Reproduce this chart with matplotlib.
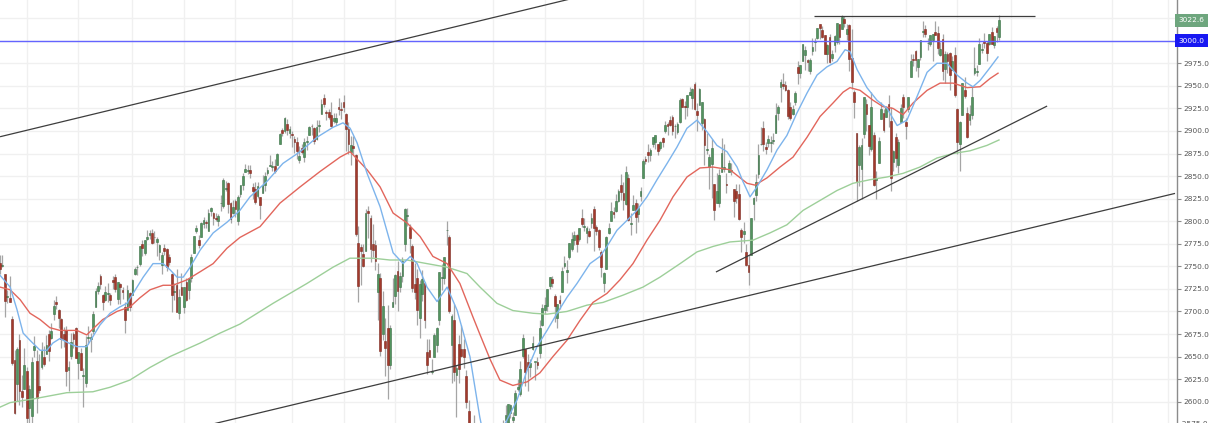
import matplotlib
matplotlib.use("Agg")
import matplotlib.pyplot as plt
import matplotlib.transforms as mtransforms
import numpy as np

# S&P 500 daily candles, 2018-03-15 .. 2019-10-25, one value per session
opens = [
    2754, 2750, 2741, 2716, 2715, 2692, 2646, 2620, 2668, 2612, 2614,  # 2018-03
    2634, 2593, 2584, 2657, 2645, 2617, 2638, 2650, 2653, 2675, 2671, 2697, 2710, 2702, 2692, 2675, 2680, 2635, 2651, 2675, 2682,
    2643, 2654, 2628, 2621, 2671, 2670, 2678, 2705, 2723, 2739, 2718, 2713, 2719, 2718, 2735, 2738, 2714, 2730, 2724, 2705, 2702, 2720,
    2718, 2741, 2749, 2753, 2775, 2765, 2780, 2785, 2787, 2783, 2777, 2766, 2752, 2770, 2769, 2760, 2742, 2722, 2729, 2698, 2727,
    2705, 2733, 2724, 2737, 2765, 2789, 2779, 2783, 2797, 2799, 2789, 2811, 2809, 2804, 2800, 2820, 2817, 2836, 2842, 2820, 2809,
    2822, 2800, 2830, 2840, 2855, 2856, 2857, 2838, 2836, 2828, 2827, 2831, 2840, 2853, 2861, 2860, 2861, 2862, 2885, 2901, 2900, 2908, 2898,
    2897, 2891, 2888, 2868, 2881, 2871, 2888, 2896, 2906, 2903, 2891, 2906, 2919, 2937, 2921, 2921, 2918, 2911, 2910,
    2926, 2924, 2932, 2919, 2902, 2877, 2883, 2873, 2776, 2771, 2764, 2767, 2811, 2803, 2775, 2774, 2721, 2737, 2675, 2667, 2682, 2641, 2705,
    2717, 2745, 2727, 2739, 2775, 2806, 2794, 2773, 2730, 2737, 2693, 2719, 2731, 2655, 2657, 2633, 2650, 2663, 2691, 2737, 2737,
    2790, 2782, 2663, 2691, 2630, 2664, 2658, 2658, 2629, 2590, 2559, 2548, 2496, 2465, 2401, 2363, 2443, 2499, 2498,
    2477, 2491, 2475, 2536, 2568, 2580, 2574, 2588, 2580, 2585, 2614, 2609, 2651, 2658, 2644, 2639, 2658, 2644, 2644, 2654, 2685,  # 2019-01
    2702, 2706, 2728, 2736, 2717, 2693, 2713, 2722, 2750, 2744, 2760, 2769, 2779, 2785, 2780, 2804, 2794, 2787, 2789,
    2798, 2814, 2794, 2790, 2766, 2731, 2747, 2787, 2800, 2810, 2811, 2822, 2840, 2831, 2819, 2848, 2797, 2812, 2820, 2808, 2828,
    2848, 2869, 2877, 2873, 2885, 2888, 2886, 2881, 2892, 2900, 2908, 2912, 2916, 2905, 2899, 2910, 2935, 2928, 2926, 2940, 2937,
    2952, 2922, 2929, 2909, 2913, 2879, 2860, 2863, 2841, 2820, 2820, 2855, 2858, 2841, 2855, 2856, 2836, 2833, 2830, 2790, 2786, 2766,
    2752, 2763, 2819, 2829, 2852, 2885, 2903, 2882, 2887, 2887, 2889, 2898, 2920, 2949, 2952, 2951, 2945, 2926, 2919, 2932,
    2971, 2964, 2978, 2984, 2979, 2966, 2989, 2999, 3003, 3018, 3012, 3006, 2985, 3004, 2981, 2995, 2999, 3019, 3013, 3024, 3007, 3017,
    2981, 2943, 2898, 2862, 2858, 2897, 2930, 2907, 2880, 2895, 2846, 2865, 2913, 2920, 2915, 2930, 2911, 2866, 2893, 2862, 2910, 2938,
    2910, 2924, 2960, 2980, 2989, 2971, 2982, 3010, 3013, 2997, 2996, 3001, 3010, 3009, 2984, 3002, 2969, 2985, 2986, 2968,
    2984, 2924, 2885, 2918, 2945, 2920, 2912, 2918, 2964, 2965, 2974, 2990, 3000, 2997, 2996, 3010, 2995, 3014, 3004,
]
highs = [
    2763, 2762, 2741, 2724, 2739, 2695, 2657, 2661, 2675, 2630, 2659,
    2638, 2619, 2649, 2673, 2657, 2653, 2666, 2662, 2674, 2680, 2687, 2713, 2717, 2703, 2693, 2683, 2684, 2645, 2676, 2677, 2683,
    2655, 2660, 2637, 2673, 2684, 2676, 2701, 2726, 2733, 2742, 2719, 2728, 2731, 2720, 2739, 2742, 2733, 2731, 2727, 2710, 2729, 2722,
    2736, 2749, 2752, 2773, 2779, 2779, 2790, 2790, 2791, 2789, 2782, 2775, 2766, 2775, 2770, 2764, 2743, 2732, 2747, 2725, 2743,
    2727, 2737, 2737, 2764, 2784, 2796, 2785, 2799, 2805, 2801, 2814, 2816, 2810, 2809, 2808, 2829, 2848, 2844, 2843, 2821, 2824,
    2825, 2829, 2840, 2853, 2863, 2862, 2862, 2842, 2843, 2843, 2827, 2851, 2855, 2860, 2873, 2867, 2869, 2876, 2898, 2903, 2916, 2913, 2906,
    2900, 2894, 2893, 2883, 2886, 2892, 2894, 2906, 2908, 2904, 2912, 2912, 2935, 2941, 2923, 2924, 2932, 2920, 2920,
    2937, 2932, 2940, 2920, 2910, 2894, 2894, 2874, 2795, 2775, 2775, 2813, 2817, 2807, 2797, 2779, 2754, 2743, 2723, 2693, 2707, 2685, 2737,
    2741, 2756, 2744, 2760, 2815, 2815, 2797, 2775, 2754, 2747, 2735, 2746, 2733, 2670, 2670, 2647, 2676, 2683, 2744, 2753, 2760,
    2800, 2785, 2697, 2708, 2641, 2674, 2685, 2670, 2635, 2602, 2573, 2585, 2510, 2504, 2410, 2468, 2489, 2520, 2510,
    2520, 2494, 2539, 2566, 2580, 2596, 2598, 2597, 2589, 2613, 2625, 2645, 2675, 2658, 2653, 2647, 2673, 2644, 2650, 2690, 2708,
    2716, 2725, 2738, 2739, 2719, 2708, 2718, 2749, 2761, 2757, 2776, 2788, 2789, 2786, 2793, 2814, 2804, 2795, 2793,
    2809, 2817, 2796, 2791, 2768, 2744, 2784, 2798, 2821, 2816, 2830, 2836, 2852, 2843, 2861, 2852, 2809, 2829, 2825, 2820, 2838,
    2869, 2872, 2885, 2881, 2893, 2895, 2886, 2889, 2893, 2911, 2910, 2917, 2918, 2908, 2910, 2936, 2937, 2933, 2940, 2949, 2948,
    2954, 2931, 2948, 2932, 2914, 2898, 2875, 2891, 2841, 2853, 2858, 2892, 2885, 2853, 2868, 2865, 2836, 2841, 2841, 2792, 2799, 2775,
    2763, 2804, 2827, 2852, 2885, 2904, 2911, 2888, 2895, 2894, 2898, 2931, 2929, 2958, 2964, 2955, 2946, 2932, 2929, 2944,
    2978, 2973, 2996, 2994, 2980, 2981, 3003, 3003, 3014, 3018, 3016, 3006, 2996, 3007, 2990, 3006, 3020, 3019, 3028, 3027, 3018, 3018,
    3013, 2945, 2898, 2884, 2892, 2938, 2935, 2907, 2943, 2899, 2856, 2893, 2932, 2924, 2928, 2940, 2927, 2879, 2898, 2891, 2930, 2941,
    2914, 2938, 2985, 2985, 2990, 2980, 3001, 3022, 3017, 3003, 3006, 3007, 3022, 3016, 2999, 3007, 2989, 2987, 2988, 2983,
    2993, 2925, 2911, 2953, 2960, 2926, 2929, 2949, 2993, 2973, 3003, 2997, 3009, 3000, 3007, 3015, 3005, 3016, 3028,
]
lows = [
    2741, 2749, 2694, 2709, 2711, 2641, 2586, 2601, 2596, 2594, 2614,
    2554, 2575, 2573, 2649, 2587, 2610, 2636, 2640, 2653, 2645, 2670, 2691, 2703, 2682, 2660, 2661, 2617, 2612, 2647, 2659, 2648,
    2625, 2635, 2594, 2616, 2664, 2655, 2675, 2705, 2719, 2725, 2702, 2712, 2711, 2707, 2725, 2721, 2708, 2708, 2714, 2676, 2702, 2700,
    2718, 2740, 2740, 2750, 2761, 2763, 2779, 2780, 2775, 2776, 2761, 2757, 2741, 2763, 2745, 2752, 2699, 2713, 2699, 2692, 2718,
    2698, 2712, 2714, 2733, 2765, 2787, 2770, 2783, 2793, 2793, 2789, 2806, 2796, 2800, 2795, 2811, 2815, 2833, 2809, 2798, 2808,
    2805, 2796, 2827, 2835, 2855, 2852, 2848, 2825, 2819, 2826, 2802, 2831, 2834, 2851, 2861, 2856, 2853, 2862, 2885, 2894, 2898, 2895, 2892,
    2882, 2876, 2869, 2864, 2875, 2866, 2879, 2896, 2895, 2886, 2890, 2899, 2919, 2927, 2912, 2913, 2904, 2909, 2907,
    2918, 2913, 2921, 2878, 2874, 2862, 2874, 2784, 2710, 2729, 2749, 2767, 2781, 2755, 2760, 2746, 2691, 2651, 2668, 2628, 2603, 2636, 2705,
    2708, 2700, 2722, 2733, 2767, 2795, 2765, 2722, 2714, 2685, 2671, 2712, 2682, 2631, 2649, 2631, 2650, 2655, 2685, 2724, 2730,
    2774, 2698, 2621, 2623, 2583, 2621, 2650, 2637, 2593, 2531, 2528, 2489, 2441, 2408, 2351, 2347, 2398, 2473, 2487,
    2467, 2444, 2475, 2525, 2547, 2569, 2563, 2582, 2570, 2585, 2612, 2606, 2648, 2617, 2612, 2627, 2657, 2624, 2636, 2648, 2684,
    2697, 2701, 2725, 2727, 2688, 2682, 2703, 2722, 2748, 2731, 2758, 2767, 2774, 2766, 2778, 2794, 2789, 2776, 2782,
    2792, 2767, 2785, 2768, 2738, 2722, 2747, 2786, 2800, 2803, 2810, 2821, 2823, 2812, 2818, 2800, 2785, 2812, 2787, 2799, 2822,
    2848, 2863, 2866, 2867, 2882, 2880, 2873, 2879, 2882, 2898, 2896, 2905, 2896, 2892, 2897, 2909, 2926, 2913, 2917, 2940, 2924,
    2923, 2900, 2929, 2901, 2862, 2874, 2836, 2826, 2801, 2820, 2816, 2855, 2854, 2831, 2855, 2851, 2805, 2820, 2801, 2766, 2776, 2750,
    2729, 2763, 2801, 2822, 2848, 2884, 2878, 2874, 2882, 2877, 2885, 2898, 2912, 2932, 2946, 2944, 2913, 2912, 2918, 2929,
    2952, 2959, 2978, 2967, 2966, 2963, 2984, 2989, 3002, 3002, 3003, 2985, 2975, 2975, 2977, 2988, 2996, 2996, 3013, 3015, 3001, 2966,
    2946, 2914, 2822, 2839, 2825, 2892, 2900, 2873, 2878, 2839, 2825, 2865, 2913, 2899, 2915, 2904, 2834, 2856, 2860, 2853, 2910, 2914,
    2891, 2921, 2960, 2972, 2966, 2960, 2979, 3004, 3004, 2990, 2994, 2978, 3006, 2985, 2983, 2957, 2953, 2964, 2945, 2967,
    2938, 2875, 2856, 2918, 2937, 2892, 2907, 2913, 2962, 2961, 2974, 2986, 2992, 2977, 2995, 2996, 2992, 2999, 3001,
]
closes = [
    2747, 2752, 2712, 2717, 2711, 2643, 2588, 2658, 2612, 2605, 2641,
    2582, 2614, 2644, 2662, 2604, 2613, 2656, 2642, 2663, 2656, 2678, 2706, 2708, 2693, 2670, 2670, 2634, 2639, 2666, 2670, 2648,
    2655, 2635, 2630, 2663, 2672, 2672, 2697, 2723, 2728, 2730, 2711, 2722, 2720, 2713, 2733, 2725, 2733, 2727, 2721, 2690, 2724, 2705,
    2735, 2747, 2749, 2772, 2770, 2779, 2782, 2787, 2776, 2782, 2780, 2774, 2763, 2767, 2749, 2755, 2718, 2723, 2699, 2716, 2718,
    2727, 2713, 2736, 2760, 2784, 2793, 2774, 2798, 2801, 2798, 2809, 2815, 2804, 2802, 2806, 2820, 2846, 2837, 2819, 2802, 2816,
    2813, 2827, 2840, 2850, 2858, 2857, 2853, 2833, 2821, 2839, 2818, 2840, 2850, 2857, 2862, 2861, 2856, 2875, 2897, 2898, 2914, 2901, 2902,
    2896, 2888, 2878, 2872, 2877, 2888, 2888, 2904, 2905, 2889, 2904, 2907, 2930, 2930, 2920, 2916, 2906, 2914, 2914,
    2924, 2923, 2926, 2902, 2886, 2884, 2881, 2786, 2728, 2767, 2750, 2809, 2809, 2769, 2768, 2756, 2741, 2656, 2706, 2659, 2641, 2682, 2711,
    2740, 2723, 2739, 2756, 2814, 2806, 2781, 2726, 2722, 2702, 2730, 2736, 2690, 2641, 2649, 2633, 2674, 2682, 2744, 2738, 2760,
    2790, 2700, 2695, 2633, 2637, 2636, 2651, 2650, 2600, 2546, 2546, 2507, 2467, 2417, 2351, 2468, 2489, 2486, 2507,
    2510, 2448, 2532, 2550, 2574, 2585, 2597, 2596, 2583, 2610, 2616, 2636, 2671, 2633, 2639, 2643, 2665, 2644, 2641, 2682, 2704,
    2707, 2725, 2738, 2732, 2706, 2708, 2709, 2745, 2754, 2746, 2776, 2780, 2785, 2775, 2793, 2797, 2794, 2793, 2784,
    2804, 2792, 2789, 2771, 2749, 2743, 2783, 2792, 2811, 2808, 2822, 2833, 2832, 2824, 2855, 2801, 2798, 2818, 2805, 2815, 2834,
    2867, 2867, 2873, 2879, 2893, 2895, 2878, 2888, 2888, 2907, 2906, 2907, 2900, 2905, 2908, 2934, 2927, 2926, 2940, 2943, 2946,
    2924, 2918, 2946, 2932, 2884, 2880, 2871, 2881, 2812, 2834, 2851, 2876, 2860, 2840, 2864, 2857, 2822, 2826, 2802, 2783, 2789, 2752,
    2744, 2804, 2826, 2843, 2873, 2886, 2885, 2880, 2891, 2887, 2889, 2918, 2926, 2954, 2950, 2945, 2917, 2914, 2924, 2942,
    2964, 2973, 2996, 2990, 2976, 2979, 2993, 3000, 3014, 3014, 3004, 2985, 2995, 2976, 2985, 3005, 3020, 3004, 3026, 3020, 3013, 2980,
    2954, 2932, 2845, 2882, 2884, 2938, 2919, 2883, 2926, 2840, 2848, 2889, 2924, 2901, 2925, 2923, 2848, 2878, 2870, 2888, 2925, 2927,
    2906, 2938, 2977, 2979, 2979, 2980, 3001, 3010, 3007, 2998, 3006, 3007, 3006, 2992, 2991, 2966, 2985, 2977, 2962, 2977,
    2940, 2888, 2910, 2953, 2939, 2893, 2919, 2938, 2970, 2966, 2996, 2990, 2998, 2986, 3007, 2996, 3005, 3010, 3023,
]

# moving averages (bar index, value)
ma_fast_at = [0.1, 4.2, 7, 9.5, 12.3, 16.4, 19.2, 21.6, 24.5, 27.3, 31.4, 35.4, 37.9, 40.8, 44.9, 48.9, 51.8,
              54.3, 58.4, 62.4, 66.5, 69.4, 72.2, 74.7, 77.5, 81.6, 86.9, 92.6, 97.8, 101.9, 108.8, 115.3, 122.3,
              129.2, 135.7, 139.8, 142.7, 145.5, 149.6, 154.9, 160.2, 164.3, 167.2, 170, 174, 178.1, 182.2, 186.3,
              191.5, 195.5, 198, 201, 204, 205.9, 210.7, 214.8, 218.8, 222.9, 227, 231.1, 235.1, 240.4, 244.5,
              247.3, 251.4, 255.5, 259.5, 263.6, 267.7, 271.8, 275.8, 279.9, 284, 288.1, 292.1, 296.2, 300.3,
              302.7, 305.6, 308.4, 312.5, 316.6, 320.6, 324.7, 328.8, 332.9, 336.9, 341, 344.3, 346.3, 349.2,
              353.2, 357.3, 361.4, 365.5, 369.5, 373.6, 377.7, 381.7, 385.8, 389.9, 394, 396.4, 399.3, 403.3, 406.6]
ma_fast = [2740, 2727, 2702, 2676, 2668, 2657, 2657, 2665, 2670, 2666, 2661, 2661, 2672, 2685, 2698, 2705, 2709,
           2720, 2738, 2753, 2753, 2746, 2738, 2738, 2749, 2768, 2787, 2799, 2812, 2827, 2844, 2864, 2877,
           2893, 2904, 2909, 2903, 2887, 2853, 2816, 2765, 2753, 2761, 2753, 2727, 2711, 2727, 2701,
           2650, 2583, 2550, 2535, 2552, 2576, 2602, 2635, 2661, 2679, 2698, 2716, 2731, 2753, 2761,
           2772, 2790, 2801, 2812, 2827, 2846, 2864, 2882, 2903, 2912, 2899, 2884, 2877, 2860,
           2844, 2827, 2838, 2857, 2879, 2895, 2920, 2942, 2962, 2971, 2977, 2990, 2988, 2968,
           2948, 2934, 2925, 2906, 2912, 2938, 2965, 2975, 2975, 2962, 2953, 2949, 2956, 2970, 2982]

ma_mid_at = [0.1, 4.2, 8.3, 12.3, 16.4, 20.4, 24.5, 31.4, 35.4, 41.9, 47.7, 53, 57, 61.2, 66.5, 70.5, 76.2,
             81.6, 86.9, 92.5, 97.8, 106, 114.1, 122.3, 130.4, 138.6, 142.7, 149.6, 154.9, 160.2, 165.9,
             171.2, 176.4, 182.2, 187.4, 192.7, 195.5, 199.7, 203.7, 209, 214.8, 220, 225.3, 231, 236.3,
             241.6, 247.3, 252.6, 257.9, 263.6, 268.9, 274.2, 279.9, 285.2, 290.5, 297.4, 304.4, 307.6,
             312.5, 317.8, 323.1, 328.8, 334.1, 339.4, 343.5, 346.3, 350.4, 355.7, 359.7, 363.8, 367.9,
             372, 377.7, 383, 388.3, 394, 399.3, 403.3, 406.6]
ma_mid = [2727, 2724, 2713, 2698, 2691, 2682, 2679, 2679, 2674, 2691, 2700, 2705, 2715, 2724, 2729, 2729, 2735,
          2744, 2753, 2770, 2782, 2794, 2820, 2838, 2855, 2871, 2877, 2857, 2838, 2809, 2798,
          2783, 2761, 2753, 2731, 2694, 2675, 2647, 2624, 2618, 2622, 2632, 2650, 2668, 2690,
          2710, 2720, 2735, 2753, 2779, 2801, 2827, 2849, 2859, 2860, 2857, 2842, 2840,
          2848, 2860, 2871, 2893, 2916, 2931, 2943, 2948, 2945, 2934, 2927, 2925, 2918,
          2931, 2945, 2953, 2953, 2948, 2949, 2958, 2964]

ma_slow_at = [0.1, 4.2, 13.5, 27.3, 37.9, 44.9, 53, 61.2, 69.3, 81.6, 89.7, 97.8, 111.3, 125.1, 135.7, 142.6,
              152, 158.9, 165.9, 174, 182.2, 190.3, 195.6, 202.5, 209, 217.2, 222.9, 231, 239.2, 245.7,
              253.8, 262, 268.9, 277.1, 284, 290.5, 297.4, 306.8, 313.7, 320.6, 327.2, 334.1, 341, 347.5,
              354.5, 361.4, 367.9, 374.8, 381.7, 388.3, 395.2, 402.1, 407]
ma_slow = [2594, 2599, 2603, 2610, 2611, 2616, 2624, 2638, 2650, 2665, 2676, 2686, 2709, 2731, 2749, 2759,
           2759, 2757, 2757, 2753, 2749, 2742, 2727, 2709, 2701, 2698, 2697, 2700, 2707, 2710,
           2718, 2727, 2738, 2753, 2766, 2772, 2777, 2779, 2787, 2796, 2812, 2823, 2834, 2842,
           2846, 2849, 2853, 2860, 2870, 2875, 2878, 2884, 2890]

# hand-drawn lines: (bar, price) endpoints
channel_top = [(0.1, 2893.6), (232.0, 3046.0)]
channel_bottom = [(86.8, 2575.3), (478.7, 2830.8)]
support = [(291.7, 2743.7), (426.6, 2927.6)]
resistance = [(331.6, 3027.9), (421.7, 3027.9)]
level = 3000.0
last_price = 3022.6

UP = "#53945f"
UP_EDGE = "#3a7046"
DOWN = "#a33a2c"
DOWN_EDGE = "#7e2a20"
WICK = "#a5a5a5"
GRID = "#f0f0f0"
AXIS = "#8c8c8c"

W, H = 1210, 423
PX_PER_BAR = 2.455
AX_RIGHT = 1176.7
LAST_X = 999.0

fig = plt.figure(figsize=(W / 100, H / 100), dpi=100)
ax = fig.add_axes([0, 0, AX_RIGHT / W, 1])

o = np.array(opens, float)
h = np.array(highs, float)
l = np.array(lows, float)
c = np.array(closes, float)
n = len(c)
x = np.arange(n)

last = n - 1
ax.set_xlim(last - LAST_X / PX_PER_BAR, last + (AX_RIGHT - LAST_X) / PX_PER_BAR)
ax.set_ylim(2576.4, 3045.1)

# grid
for yv in np.arange(2600, 3030, 25):
    ax.axhline(yv, color=GRID, lw=1.0, zorder=0)
for xv in [11, 32, 54, 75, 96, 119, 140, 161, 201, 222, 262, 283, 305, 326, 347, 369, 390, 412, 453, 476]:
    ax.axvline(xv, color=GRID, lw=1.0, zorder=0)

# candles
up = c >= o
ax.vlines(x, l, h, color=WICK, lw=0.9, zorder=2)
body_lo = np.minimum(o, c)
body_h = np.maximum(np.abs(c - o), 0.6)
ax.bar(x[up], body_h[up], bottom=body_lo[up], width=0.72, color=UP, edgecolor=UP_EDGE, lw=0.4, zorder=3)
ax.bar(x[~up], body_h[~up], bottom=body_lo[~up], width=0.72, color=DOWN, edgecolor=DOWN_EDGE, lw=0.4, zorder=3)

# moving averages
ax.plot(ma_slow_at, ma_slow, color="#9dcf99", lw=1.0, zorder=4)
ax.plot(ma_mid_at, ma_mid, color="#e2665c", lw=1.0, zorder=4)
ax.plot(ma_fast_at, ma_fast, color="#7db4ec", lw=1.0, zorder=4)

# drawings
ax.axhline(level, color="#6464ff", lw=1.0, zorder=5)
for seg in (channel_top, channel_bottom, support, resistance):
    (x0, y0), (x1, y1) = seg
    ax.plot([x0, x1], [y0, y1], color="#3d3d3d", lw=0.9, zorder=6, solid_capstyle="butt")

# price scale on the right
for side in ("top", "left", "bottom"):
    ax.spines[side].set_visible(False)
ax.spines["right"].set_color(AXIS)
ax.spines["right"].set_linewidth(1.0)
ax.set_xticks([])
ax.yaxis.tick_right()
ticks = np.arange(2600, 3001, 25)
ax.set_yticks(ticks)
# the 3000 label is covered by the level badge
ax.set_yticklabels([f"{t:.1f}" if t != level else "" for t in ticks])
ax.tick_params(axis="y", right=True, length=3, width=0.8, color=AXIS, labelsize=5.3,
               labelcolor="#555555", pad=2)

tr = mtransforms.blended_transform_factory(ax.transAxes, ax.transData)
ax.text(1.0, 2575, "  2575.0", transform=tr, ha="left", va="center", fontsize=5.3,
        color="#555555", clip_on=False)
ax.text(1.0015, last_price, f"{last_price:.1f}", transform=tr, ha="left", va="center", fontsize=5.3,
        color="white", zorder=10, clip_on=False,
        bbox=dict(boxstyle="square,pad=0.45", fc="#6ea67e", ec="none"))
ax.text(1.0015, level, f"{level:.1f}", transform=tr, ha="left", va="center", fontsize=5.3,
        color="white", zorder=10, clip_on=False,
        bbox=dict(boxstyle="square,pad=0.45", fc="#1818f2", ec="none"))

fig.savefig("out.png", dpi=100, facecolor="white")
